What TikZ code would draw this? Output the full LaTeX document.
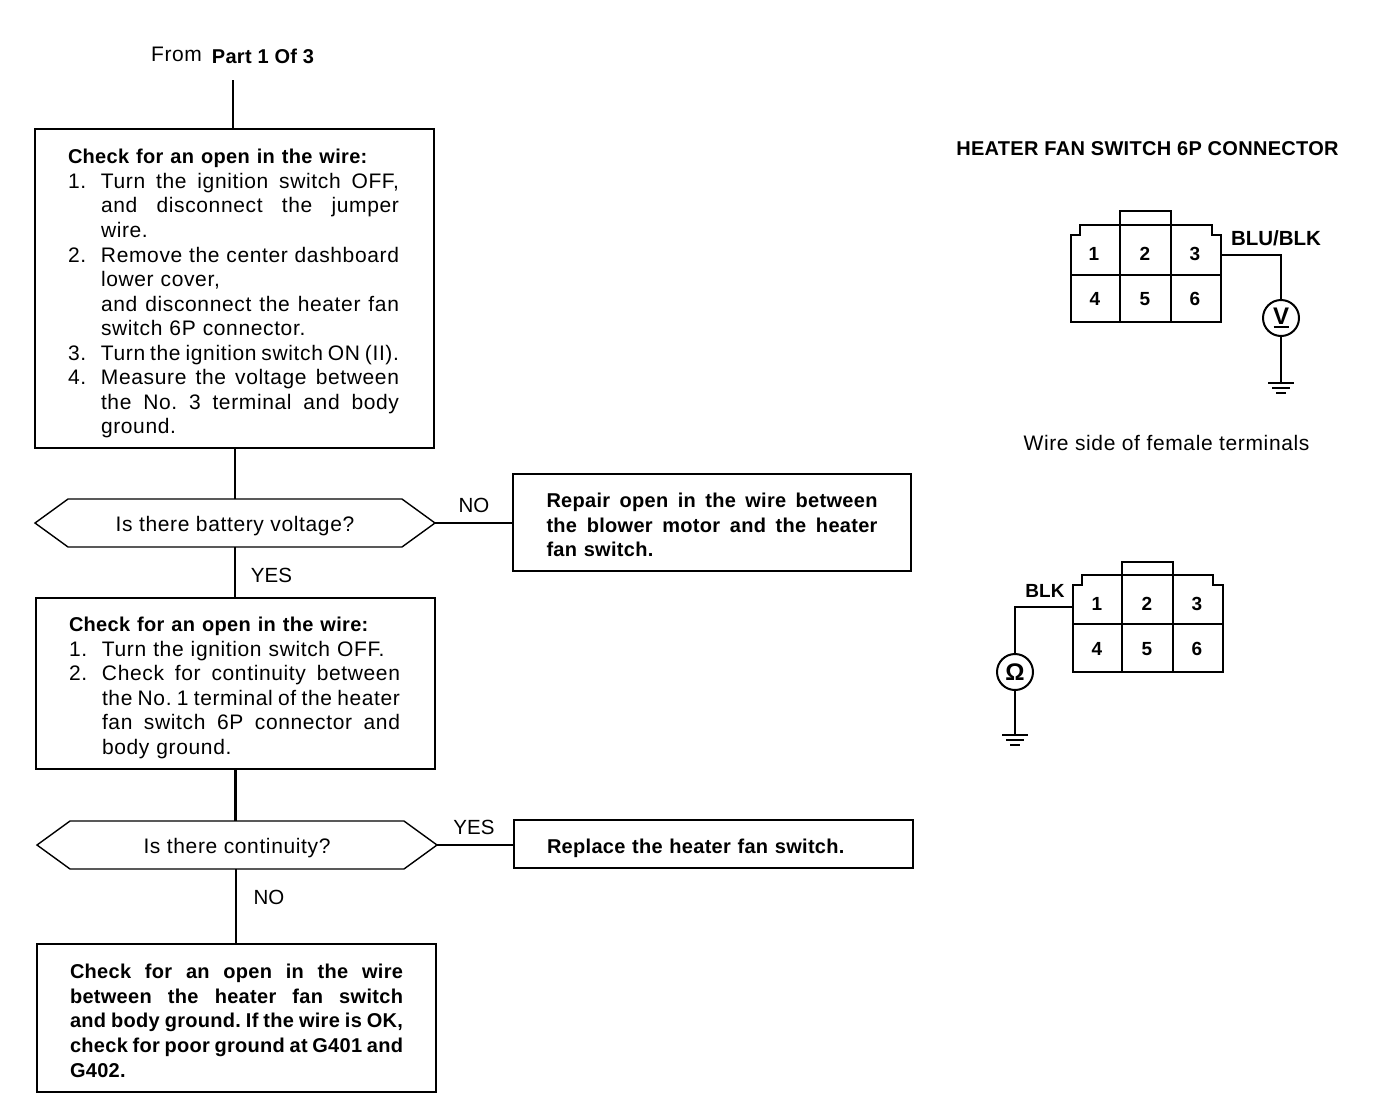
\documentclass[tikz,border=0pt]{standalone}
\usepackage{fontspec}
\setmainfont{Liberation Sans}
\usetikzlibrary{shapes.symbols,calc}
\newcommand{\rg}{\fontsize{21}{24.55}\selectfont\addfontfeature{LetterSpace=3}}
\newcommand{\bd}{\fontsize{20}{24.55}\selectfont\bfseries\addfontfeature{LetterSpace=1.5}}
\newcommand{\sw}[2]{\makebox[#1pt][s]{\frenchspacing\spaceskip=0pt\xspaceskip=0pt #2}}
\newcommand{\nl}[2]{\makebox[33pt][l]{#1}\sw{298}{#2}}
\newcommand{\pl}[2]{\makebox[33pt][l]{#1}#2}
\newcommand{\tp}[1]{\rule{0pt}{#1pt}}
\tikzset{
  x=1pt,y=-1pt,
  txt/.style={font=\rg,inner sep=0pt,outer sep=0pt},
  btxt/.style={font=\bd,inner sep=0pt,outer sep=0pt},
  yn/.style={font=\fontsize{20.5}{24}\selectfont,inner sep=0pt,outer sep=0pt},
  flow/.style={draw,line width=1.6pt,rectangle,inner sep=0pt,outer sep=0pt,align=left,font=\rg},
  hex/.style={draw,line width=1.4pt,shape=signal,signal to=east and west,signal pointer angle=72,
     minimum width=400pt,minimum height=48pt,inner sep=0pt,outer sep=0pt,font=\rg},
  wire/.style={line width=1.7pt},
  body/.style={line width=2.4pt,line join=miter},
  meter/.style={draw,circle,line width=2pt,minimum size=36pt,inner sep=0pt,outer sep=0pt,font=\fontsize{24}{24}\selectfont\bfseries},
  pin/.style={font=\fontsize{19}{22}\selectfont\bfseries,inner sep=0pt,outer sep=0pt},
}
\begin{document}
\begin{tikzpicture}
\useasboundingbox[fill=white] (0,0) rectangle (1392,1112);
% Flow
\node[txt] (from) at (176.5,54) {From};
\node[btxt] (part) at (263,56) {Part 1 Of 3};
\coordinate (start) at (233,80);
\node[flow,minimum width=399pt,minimum height=319pt,text width=333pt] (b1) at (234.5,288.5) {%
\tp{25}{\bd Check for an open in the wire:}\\
\nl{1.}{Turn the ignition switch OFF,}\\
\nl{}{and disconnect the jumper}\\
\pl{}{wire.}\\
\nl{2.}{Remove the center dashboard}\\
\pl{}{lower cover,}\\
\nl{}{and disconnect the heater fan}\\
\pl{}{switch 6P connector.}\\
\nl{3.}{Turn the ignition switch ON (II).}\\
\nl{4.}{Measure the voltage between}\\
\nl{}{the No. 3 terminal and body}\\
\pl{}{ground.}};
\node[hex] (h1) at (235,523) {\tp{21}Is there battery voltage?};
\node[flow,minimum width=398pt,minimum height=97pt,text width=331pt,font=\bd] (r1) at (712,522.5) {%
\tp{19.5}\sw{331}{Repair open in the wire between}\\
\sw{331}{the blower motor and the heater}\\
fan switch.};
\node[yn] (no1) at (474,505) {NO};
\node[yn] (yes1) at (271.5,575) {YES};
\node[flow,minimum width=399pt,minimum height=171pt,text width=333pt] (b2) at (235.5,683.5) {%
\tp{23.5}{\bd Check for an open in the wire:}\\
\pl{1.}{Turn the ignition switch OFF.}\\
\nl{2.}{Check for continuity between}\\
\nl{}{the No. 1 terminal of the heater}\\
\nl{}{fan switch 6P connector and}\\
\pl{}{body ground.}};
\node[hex] (h2) at (237,845) {\tp{21}Is there continuity?};
\node[flow,minimum width=399pt,minimum height=48pt,text width=333pt,font=\bd] (r2) at (713.5,844) {\tp{23}Replace the heater fan switch.};
\node[yn] (yes2) at (474,827) {YES};
\node[yn] (no2) at (269,897) {NO};
\node[flow,minimum width=399pt,minimum height=148pt,text width=333pt,font=\bd] (b3) at (236.5,1018) {%
\tp{20}\sw{333}{Check for an open in the wire}\\
\sw{333}{between the heater fan switch}\\
\sw{333}{and body ground. If the wire is OK,}\\
\sw{333}{check for poor ground at G401 and}\\
G402.};
\draw[wire] (start) -- (start |- b1.north);
\draw[wire] (h1.north |- b1.south) -- (h1.north);
\draw[wire] (h1.south) -- (h1.south |- b2.north);
\draw[wire] (h1.east) -- (h1.east -| r1.west);
\draw[line width=2.6pt] (b2.south) -- (b2.south |- h2.north);
\draw[wire] (h2.east) -- (h2.east -| r2.west);
\draw[wire] ([xshift=-0.5pt]b3.north |- h2.south) -- ([xshift=-0.5pt]b3.north);
% Title
\node[btxt] (title) at (1147.5,148.5) {HEATER FAN SWITCH 6P CONNECTOR};
% Connector 1
\draw[body] (1071,322) -- (1071,235) -- (1080,235) -- (1080,225) -- (1212,225) -- (1212,235) -- (1221,235) -- (1221,322) -- cycle;
\draw[body] (1071,275) -- (1221,275) (1120,322) -- (1120,211) -- (1171,211) -- (1171,322);
\node[pin] (a1) at (1094,254) {1};
\node[pin] (a2) at (1145,254) {2};
\node[pin] (a3) at (1195,254) {3};
\node[pin] (a4) at (1095,299) {4};
\node[pin] (a5) at (1145,299) {5};
\node[pin] (a6) at (1195,299) {6};
\node[pin,font=\fontsize{20.5}{22}\selectfont\bfseries] (blu) at (1276,238) {BLU/BLK};
\coordinate (w1) at (1221,255);
\node[meter] (mv) at (1281,318) {};
\node[font=\fontsize{24}{24}\selectfont\bfseries,inner sep=0pt] (vl) at (1281,316) {V};
\draw[line width=1.4pt] (1273.5,327) -- (1288.5,327);
\coordinate (g1) at (1281,383);
\draw[wire] (w1) -| (mv.north);
\draw[wire] (mv.south) -- (g1);
\draw[line width=1.6pt] ($(g1)+(-13,0)$) -- ($(g1)+(13,0)$) ($(g1)+(-9,5)$) -- ($(g1)+(9,5)$) ($(g1)+(-5,10)$) -- ($(g1)+(5,10)$);
\node[txt] (side) at (1166.5,443) {Wire side of female terminals};
% Connector 2
\draw[body] (1073,672) -- (1073,585) -- (1082,585) -- (1082,575) -- (1213,575) -- (1213,585) -- (1223,585) -- (1223,672) -- cycle;
\draw[body] (1073,624) -- (1223,624) (1122,672) -- (1122,562) -- (1173,562) -- (1173,672);
\node[pin] (c1) at (1097,604) {1};
\node[pin] (c2) at (1147,604) {2};
\node[pin] (c3) at (1197,604) {3};
\node[pin] (c4) at (1097,649) {4};
\node[pin] (c5) at (1147,649) {5};
\node[pin] (c6) at (1197,649) {6};
\node[pin] (blk) at (1045,591) {BLK};
\coordinate (w2) at (1073,607);
\node[meter] (mo) at (1015,672) {Ω};
\coordinate (g2) at (1015,735);
\draw[wire] (w2) -| (mo.north);
\draw[wire] (mo.south) -- (g2);
\draw[line width=1.6pt] ($(g2)+(-13,0)$) -- ($(g2)+(13,0)$) ($(g2)+(-9,5)$) -- ($(g2)+(9,5)$) ($(g2)+(-5,10)$) -- ($(g2)+(5,10)$);
\end{tikzpicture}
\end{document}
